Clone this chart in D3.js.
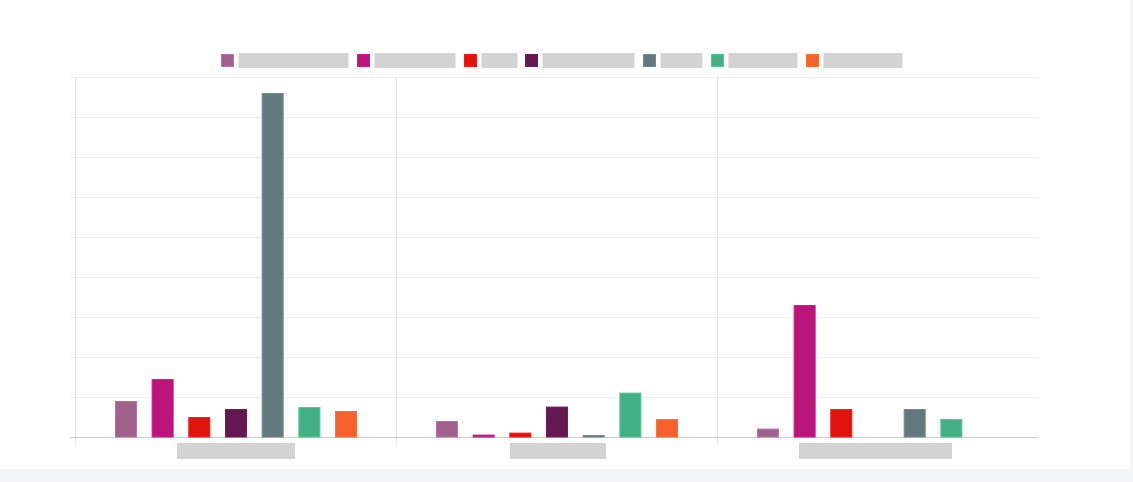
<!DOCTYPE html>
<html><head><meta charset="utf-8">
<script src="https://cdn.jsdelivr.net/npm/d3@7"></script>
<style>
html,body{margin:0;padding:0;background:#f3f6f9;}
svg{display:block;}
</style></head>
<body>
<svg id="chart" width="1133" height="482"></svg>
<script>
// ---- data ----
const categories = ["Category A", "Category B", "Category C"];
const seriesNames = ["Series one", "Series two", "Three", "Series four", "Five", "Series six", "Seven"];
const seriesColors = ["#a0628c", "#b9157a", "#e0140f", "#63194f", "#62797e", "#42b084", "#f6602c"];
const valuesA = [9.0, 14.5, 5.0, 7.0, 86.0, 7.5, 6.5];
const valuesB = [4.0, 0.6, 1.1, 7.6, 0.5, 11.1, 4.5];
const valuesC = [2.1, 33.0, 7.0, null, 7.0, 4.5, null];
const yTicks = [0, 10, 20, 30, 40, 50, 60, 70, 80, 90];
const allValues = [valuesA, valuesB, valuesC];

// ---- layout (not data) ----
const legendLabelWidths = [110, 81, 36, 92, 42, 69, 79];
const catLabelWidths = [118, 96, 153];
const catLabelShift = [0, 1, -2.5];

const svg = d3.select("#chart");
svg.append("rect").attr("x", 0).attr("y", 0).attr("width", 1130).attr("height", 469).attr("fill", "#ffffff");

const mLeft = 75.5, mRight = 1038.5, mTop = 77, mBottom = 437;
const x0 = d3.scaleBand().domain(categories).range([mLeft, mRight]).padding(0);
const x1 = d3.scaleBand().domain(seriesNames).range([0, x0.bandwidth()]).paddingInner(0.4).paddingOuter(1.075);
const y = d3.scaleLinear().domain([0, 90]).range([mBottom, mTop]);

// horizontal grid
svg.append("g").selectAll("line").data(yTicks.filter(t => t > 0)).join("line")
  .attr("x1", 70).attr("x2", mRight)
  .attr("y1", d => Math.round(y(d)) + 0.5).attr("y2", d => Math.round(y(d)) + 0.5)
  .attr("stroke", "#eeeeee").attr("stroke-width", 1);

// vertical category separators
svg.append("g").selectAll("line").data(categories).join("line")
  .attr("x1", d => x0(d)).attr("x2", d => x0(d))
  .attr("y1", mTop).attr("y2", mBottom + 8)
  .attr("stroke", "#e6e6e6").attr("stroke-width", 1);

// baseline
svg.append("line").attr("x1", 70).attr("x2", mRight)
  .attr("y1", Math.round(y(0)) + 0.5).attr("y2", Math.round(y(0)) + 0.5)
  .attr("stroke", "#cccccc").attr("stroke-width", 1);

// bars
const groups = svg.append("g").selectAll("g").data(categories).join("g")
  .attr("transform", d => `translate(${x0(d)},0)`);
groups.selectAll("rect")
  .data((c, i) => seriesNames.map((s, j) => ({ s, j, v: allValues[i][j] })).filter(d => d.v != null))
  .join("rect")
  .attr("x", d => x1(d.s) + 0.5)
  .attr("width", x1.bandwidth() - 1)
  .attr("y", d => y(d.v) + 0.5)
  .attr("height", d => Math.max(0, y(0) - y(d.v) - 0.5))
  .attr("fill", d => seriesColors[d.j])
  .attr("stroke", d => d3.color(seriesColors[d.j]).brighter(0.4))
  .attr("stroke-width", 1);

// category labels (redacted)
const catG = svg.append("g").selectAll("g").data(categories).join("g")
  .attr("transform", (d, i) => `translate(${x0(d) + x0.bandwidth() / 2 - catLabelWidths[i] / 2 + catLabelShift[i]},443)`);
catG.append("rect").attr("width", (d, i) => catLabelWidths[i]).attr("height", 16).attr("fill", "#d3d3d3");
catG.append("text").text(d => d).attr("x", 0).attr("y", 12.5)
  .attr("textLength", (d, i) => catLabelWidths[i]).attr("lengthAdjust", "spacingAndGlyphs")
  .attr("font-family", "Liberation Sans, Arial, sans-serif").attr("font-size", 12).attr("fill", "#d3d3d3");

// legend
let lx = 221;
const legendPos = legendLabelWidths.map(w => { const p = lx; lx += 17.5 + w + 8.3; return p; });
const lg = svg.append("g").selectAll("g").data(seriesNames).join("g")
  .attr("transform", (d, i) => `translate(${Math.round(legendPos[i])},53)`);
lg.append("rect").attr("x", 0.5).attr("y", 1.5).attr("width", 12).attr("height", 12)
  .attr("fill", (d, i) => seriesColors[i])
  .attr("stroke", (d, i) => d3.color(seriesColors[i]).brighter(0.4)).attr("stroke-width", 1);
lg.append("rect").attr("x", 17.5).attr("y", 0).attr("width", (d, i) => legendLabelWidths[i]).attr("height", 15).attr("fill", "#d3d3d3");
lg.append("text").text(d => d).attr("x", 17.5).attr("y", 12)
  .attr("textLength", (d, i) => legendLabelWidths[i]).attr("lengthAdjust", "spacingAndGlyphs")
  .attr("font-family", "Liberation Sans, Arial, sans-serif").attr("font-size", 12).attr("fill", "#d3d3d3");
</script>
</body></html>
